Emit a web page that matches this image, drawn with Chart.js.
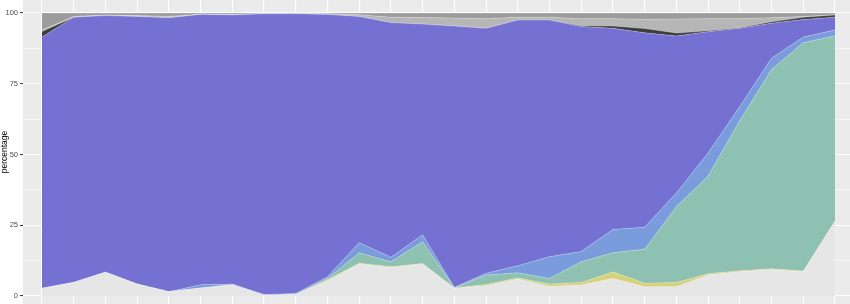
<!DOCTYPE html>
<html>
<head>
<meta charset="utf-8">
<script src="https://cdn.jsdelivr.net/npm/chart.js@4.4.0/dist/chart.umd.min.js"></script>
<style>
  html, body { margin: 0; padding: 0; background: #fff; }
  #wrap { width: 850px; height: 304px; }
</style>
</head>
<body>
<div id="wrap"><canvas id="chart" width="850" height="304"></canvas></div>
<script>
// x positions (one per period)
const periods = [1, 2, 3, 4, 5, 6, 7, 8, 9, 10, 11, 12, 13, 14, 15, 16, 17, 18, 19, 20, 21, 22, 23, 24, 25, 26];

// stacked layers, bottom to top (percent)
const layerA = [2.7, 4.8, 8.4, 4.2, 1.5, 2.8, 4.0, 0.3, 0.5, 5.4, 11.3, 10.1, 11.3, 2.7, 3.6, 6.0, 3.4, 3.9, 6.2, 3.3, 3.3, 7.4, 8.6, 9.4, 8.6, 26.3];
const layerB = [0, 0, 0, 0, 0, 0, 0, 0, 0, 0.3, 0.3, 0.2, 0.2, 0.1, 0.5, 0.4, 0.8, 0.9, 2.3, 1.2, 1.5, 0.5, 0.3, 0.2, 0.2, 0.2];
const layerC = [0, 0, 0, 0, 0, 0, 0, 0, 0.1, 0.5, 3.7, 1.8, 7.7, 0.1, 3.3, 1.8, 2.0, 7.3, 6.8, 12.0, 26.8, 34.5, 53.1, 70.4, 80.7, 65.5];
const layerD = [0, 0, 0, 0, 0, 1.2, 0.2, 0.2, 0.3, 0.6, 3.5, 1.6, 2.4, 0.1, 0.6, 2.5, 7.7, 3.6, 8.2, 7.8, 4.8, 8.1, 5.0, 4.0, 2.0, 2.0];
const layerE = [88.8, 93.7, 90.7, 94.6, 96.8, 95.5, 95.1, 99.2, 98.8, 92.7, 80.0, 82.9, 74.5, 92.4, 86.6, 86.8, 83.6, 79.5, 71.1, 68.7, 55.5, 42.9, 27.6, 12.4, 6.2, 4.5];
const layerF = [2.0, 0, 0, 0, 0, 0, 0, 0, 0, 0, 0, 0, 0, 0, 0, 0, 0, 0.3, 0.8, 1.5, 1.0, 0.3, 0.2, 0.5, 0.8, 0.8];
const layerG = [0.5, 0.3, 0.2, 0.3, 0.5, 0.1, 0.2, 0.1, 0.1, 0.2, 0.6, 1.9, 2.3, 2.8, 3.4, 1.0, 1.0, 2.5, 2.6, 3.3, 5.0, 4.3, 3.2, 1.4, 0.3, 0.1];
const layerH = [6.0, 1.2, 0.7, 0.9, 1.2, 0.4, 0.5, 0.2, 0.2, 0.3, 0.6, 1.5, 1.6, 1.8, 2.0, 1.5, 1.5, 2.0, 2.0, 2.2, 2.1, 2.0, 2.0, 1.7, 1.2, 0.6];

const layers = [layerA, layerB, layerC, layerD, layerE, layerF, layerG, layerH];
const layerColors = ["#e6e6e6", "#d6d27a", "#8ec1b1", "#7a9cdc", "#7571d3", "#3e3e3e", "#b6b6b6", "#9c9c9c"];

// y axis
const yGridValues = [0, 12.5, 25, 37.5, 50, 62.5, 75, 87.5, 100];
const yTickLabels = [0, 25, 50, 75, 100];

const panelBackground = {
    id: "panelBackground",
    beforeDraw(chart) {
        const { ctx, chartArea } = chart;
        ctx.save();
        ctx.fillStyle = "#ffffff";
        ctx.fillRect(0, 0, chart.width, chart.height);
        ctx.fillStyle = "#ebebeb";
        ctx.fillRect(chartArea.left, chartArea.top, chartArea.right - chartArea.left, chartArea.bottom - chartArea.top);
        ctx.restore();
    },
};

const datasets = layers.map((values, k) => ({
    data: values.map((v, i) => ({ x: periods[i], y: v })),
    backgroundColor: layerColors[k],
    borderColor: "rgba(255,255,255,0.35)",
    borderWidth: 0.7,
    fill: k === 0 ? "origin" : "-1",
    pointRadius: 0,
    tension: 0,
}));

const isMajor = (v) => yTickLabels.includes(v);

new Chart(document.getElementById("chart").getContext("2d"), {
    type: "line",
    data: { datasets },
    plugins: [panelBackground],
    options: {
        responsive: false,
        animation: false,
        layout: { padding: 0 },
        plugins: {
            legend: { display: false },
            tooltip: { enabled: false },
        },
        scales: {
            x: {
                type: "linear",
                min: 0.401,
                max: 26.473,
                afterBuildTicks: (s) => { s.ticks = periods.map((v) => ({ value: v })); },
                afterFit: (s) => { s.height = 0; s.paddingLeft = 0; s.paddingRight = 0; },
                ticks: { display: false },
                grid: { color: "#ffffff", lineWidth: 1.1, drawTicks: false },
                border: { display: false },
            },
            y: {
                stacked: true,
                min: -2.827,
                max: 104.594,
                afterBuildTicks: (s) => { s.ticks = yGridValues.map((v) => ({ value: v })); },
                afterFit: (s) => { s.width = 23; s.paddingTop = 0; s.paddingBottom = 0; },
                ticks: {
                    padding: 2,
                    color: "#4d4d4d",
                    font: { family: "Liberation Sans", size: 7.5 },
                    callback: (v) => (isMajor(v) ? String(v) : ""),
                },
                grid: {
                    color: "#ffffff",
                    lineWidth: (c) => (isMajor(c.tick.value) ? 1.1 : 0.55),
                    tickLength: 3,
                    tickColor: (c) => (isMajor(c.tick.value) ? "#333333" : "rgba(0,0,0,0)"),
                    tickWidth: 1,
                },
                border: { display: false },
                title: {
                    display: true,
                    text: "percentage",
                    color: "#000000",
                    font: { family: "Liberation Sans", size: 8.5 },
                    padding: 0,
                },
            },
        },
    },
});
</script>
</body>
</html>
